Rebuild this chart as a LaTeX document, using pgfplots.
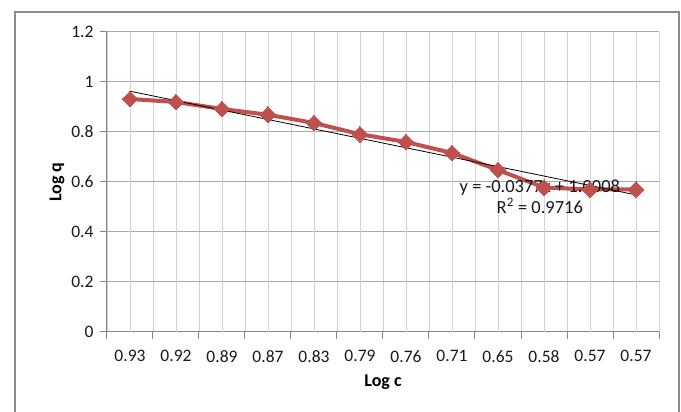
\documentclass[border=0pt]{standalone}
\usepackage{pgfplots}
\pgfplotsset{compat=1.18}
\usepackage{fontspec}
\setmainfont{Carlito}
\definecolor{exred}{RGB}{192,80,77}
\definecolor{axgray}{RGB}{134,134,134}
\definecolor{hgrid}{RGB}{170,170,170}
\definecolor{vgrid}{RGB}{210,210,210}
\definecolor{framegray}{RGB}{140,140,140}
\begin{document}
\begin{tikzpicture}
\path[use as bounding box] (-107pt,-80pt) rectangle (574pt,332pt);
\draw[framegray, line width=1.8pt] (-92pt,-90pt) -- (-92pt,320pt) -- (572pt,320pt) -- (572pt,-90pt);
\begin{axis}[
  at={(0pt,0pt)}, anchor=south west,
  scale only axis, width=552pt, height=300pt,
  xmin=0.5, xmax=12.5, ymin=0, ymax=1.2,
  /pgf/number format/assume math mode=true,
  axis lines*=left,
  axis line style={axgray, line width=1pt},
  xtick={0.5,1.5,...,12.5},
  xticklabels={},
  extra x ticks={1,...,12},
  extra x tick labels={0.93,0.92,0.89,0.87,0.83,0.79,0.76,0.71,0.65,0.58,0.57,0.57},
  extra x tick style={major tick length=0pt, grid=major,
     xticklabel style={yshift=-15pt}},
  ytick={0,0.2,0.4,0.6,0.8,1,1.2},
  yticklabels={0,0.2,0.4,0.6,0.8,1,1.2},
  tick align=outside,
  major tick length=7pt,
  tick style={axgray, line width=1pt},
  xmajorgrids=true, ymajorgrids=true,
  major x grid style={vgrid, line width=0.9pt},
  major y grid style={hgrid, line width=1pt},
  tick label style={font=\fontsize{17.5}{20}\selectfont, text=black!90},
  yticklabel style={xshift=-3pt},
  xlabel={\textbf{Log c}},
  ylabel={\textbf{Log q}},
  label style={font=\fontsize{18}{20}\selectfont},
  xlabel style={at={(axis description cs:0.5,-0.1667)}, anchor=center},
  ylabel style={at={(axis description cs:-0.0906,0.5)}, anchor=center},
  clip=false,
]
\addplot[exred, line width=4pt, mark=square*, mark size=5.6pt,
  mark options={rotate=45, line width=0pt}] coordinates {
  (1,0.932) (2,0.920) (3,0.892) (4,0.869) (5,0.836) (6,0.791)
  (7,0.760) (8,0.716) (9,0.648) (10,0.578) (11,0.570) (12,0.570)
};
\addplot[black, line width=0.8pt] coordinates {(1,0.9631) (12,0.5484)};
\node[font=\fontsize{18.5}{21}\selectfont, align=center, text=black!90] at (axis cs:9.91,0.542) {y = -0.0377x + 1.0008\\R\textsuperscript{2} = 0.9716};
\end{axis}
\end{tikzpicture}
\end{document}
